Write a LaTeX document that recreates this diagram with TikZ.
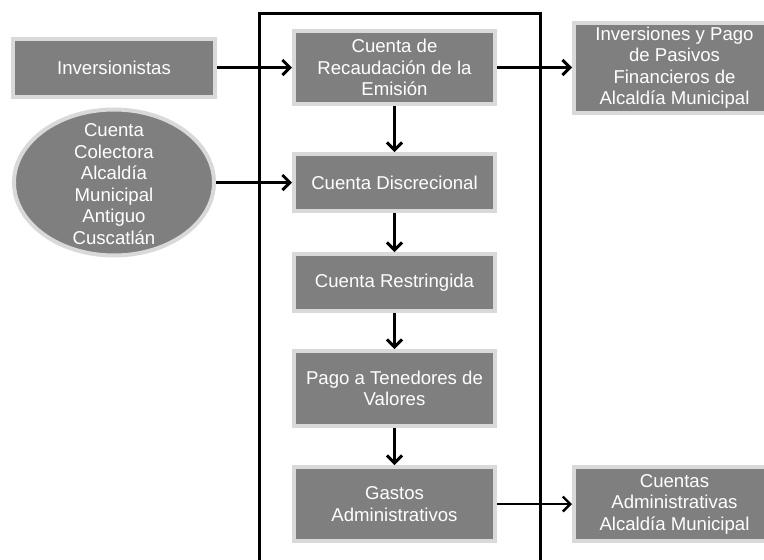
\documentclass[tikz,border=0pt]{standalone}
\usepackage{fontspec}
\setmainfont{Liberation Sans}
\usetikzlibrary{arrows.meta,shapes.geometric}
\definecolor{boxfill}{HTML}{7F7F7F}
\definecolor{boxedge}{HTML}{D9D9D9}
\tikzset{
  gbox/.style={rectangle, fill=boxfill, draw=boxedge, line width=4pt,
    text=white, align=center, inner sep=0pt,
    font=\fontsize{18.6}{21.5}\selectfont},
  gell/.style={ellipse, fill=boxfill, draw=boxedge, line width=4pt, inner sep=0pt},
  gtext/.style={text=white, align=center, inner sep=0pt,
    font=\fontsize{18.6}{21.5}\selectfont},
  flow/.style={line width=3pt, -{Straight Barb[length=7.5pt,width=15pt]}},
  frame/.style={line width=3pt, draw=black}
}
\begin{document}
\begin{tikzpicture}[x=1pt,y=-1pt]
\useasboundingbox (0,0) rectangle (764,560);
\clip (0,0) rectangle (764,560);
\fill[white] (0,0) rectangle (764,560);
% frame
\draw[frame] (259.5,13.5) rectangle (540.5,580);
% center column
\node[gbox, minimum width=201pt, minimum height=73pt] (rec) at (394.5,67.5) {Cuenta de\\Recaudación de la\\Emisión};
\node[gbox, minimum width=201pt, minimum height=57pt] (disc) at (394.5,182.5) {Cuenta Discrecional};
\node[gbox, minimum width=201pt, minimum height=57pt] (restr) at (394.5,282.5) {Cuenta Restringida};
\node[gbox, minimum width=201pt, minimum height=75pt] (pago) at (394.5,388.5) {Pago a Tenedores de\\Valores};
\node[gbox, minimum width=201pt, minimum height=74pt] (gastos) at (394.5,504) {Gastos\\Administrativos};
% left
\node[gbox, minimum width=202pt, minimum height=58pt] (inv) at (114,67.5) {Inversionistas};
\node[gell, minimum width=200pt, minimum height=146pt] (col) at (114,182.5) {};
\node[gtext] (coltext) at (114,184) {Cuenta\\Colectora\\Alcaldía\\Municipal\\Antiguo\\Cuscatlán};
% right
\node[gbox, minimum width=201pt, minimum height=90pt] (invpago) at (674.5,67.5) {Inversiones y Pago\\de Pasivos\\Financieros de\\Alcaldía Municipal};
\node[gbox, minimum width=201pt, minimum height=74pt] (ctas) at (674.5,504) {Cuentas\\Administrativas\\Alcaldía Municipal};
% connectors
\draw[flow] (inv.east) -- (rec.west);
\draw[flow] (col.east) -- (disc.west);
\draw[flow] (rec.east) -- (invpago.west);
\draw[flow] (rec.south) -- (disc.north);
\draw[flow] (disc.south) -- (restr.north);
\draw[flow] (restr.south) -- (pago.north);
\draw[flow] (pago.south) -- (gastos.north);
\draw[flow, line width=2.4pt] (gastos.east) -- (ctas.west);
\end{tikzpicture}
\end{document}
